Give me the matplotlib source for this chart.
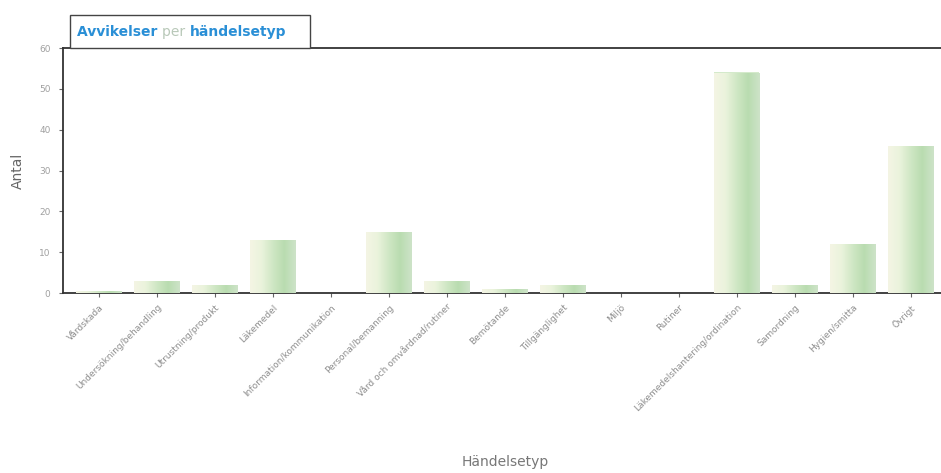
import numpy as np
import matplotlib
matplotlib.use("Agg")
import matplotlib.pyplot as plt
from matplotlib.colors import LinearSegmentedColormap
from matplotlib.patches import Rectangle

# Deviation counts per event type
categories = [
    "Vårdskada",
    "Undersökning/behandling",
    "Utrustning/produkt",
    "Läkemedel",
    "Information/kommunikation",
    "Personal/bemanning",
    "Vård och omvårdnad/rutiner",
    "Bemötande",
    "Tillgänglighet",
    "Miljö",
    "Rutiner",
    "Läkemedelshantering/ordination",
    "Samordning",
    "Hygien/smitta",
    "Övrigt",
]
counts = [0.5, 3, 2, 13, 0, 15, 3, 1, 2, 0, 0, 54, 2, 12, 36]
yticks = [0, 10, 20, 30, 40, 50, 60]

fig = plt.figure(figsize=(9.41, 4.73), dpi=100)
ax = fig.add_axes([63 / 941, 1 - 293 / 473, 1 - 63 / 941, (293 - 48) / 473])

x = np.arange(len(categories))
bar_w = 0.78
bars = ax.bar(x, counts, width=bar_w, color="#d4eacb", edgecolor="none", zorder=2)

# Horizontal gradient fill inside each bar (cream on the left, green on the right)
grad_cmap = LinearSegmentedColormap.from_list(
    "barfill", ["#f4f5e4", "#eaf3dc", "#cfe7c4", "#b9dcb0", "#cde3c8"]
)
grad = np.linspace(0, 1, 64).reshape(1, -1)
for rect, val in zip(bars, counts):
    if val <= 0:
        continue
    x0 = rect.get_x()
    im = ax.imshow(grad, cmap=grad_cmap, aspect="auto",
                   extent=[x0, x0 + rect.get_width(), 0, val],
                   zorder=3, interpolation="bilinear")
    im.set_clip_path(rect)

ax.set_xlim(-0.62, len(categories) - 0.48)
ax.set_ylim(0, 60)
ax.set_yticks(yticks)
ax.set_yticklabels([str(v) for v in yticks], fontsize=6.5, color="#a0a0a0")
ax.set_xticks(x)
ax.set_xticklabels(categories, rotation=45, ha="right", rotation_mode="anchor",
                   fontsize=6.5, color="#8e8e8e")
ax.tick_params(axis="x", length=3, width=0.8, color="#666666", pad=4)
ax.tick_params(axis="y", length=3, width=0.8, color="#666666", pad=6)

for side in ("left", "bottom", "top"):
    ax.spines[side].set_color("#333333")
    ax.spines[side].set_linewidth(1.3)
ax.spines["right"].set_visible(False)

ax.set_ylabel("Antal", fontsize=10, color="#666666", labelpad=10)
ax.set_xlabel("Händelsetyp", fontsize=10, color="#777777")
ax.xaxis.label.set_va("center")
ax.xaxis.set_label_coords((505 - 63) / 878, (293 - 462) / 245)

# Title tab sitting on the top edge of the plot
tab = Rectangle((70 / 941, 1 - 48 / 473), (310 - 70) / 941, (48 - 15) / 473,
                transform=fig.transFigure, facecolor="white",
                edgecolor="#444444", linewidth=1.0, zorder=5)
fig.add_artist(tab)
ty = 1 - 32 / 473
t1 = fig.text(77 / 941, ty, "Avvikelser ", fontsize=10, fontweight="bold",
              color="#2a8fd6", va="center", ha="left", zorder=6)
fig.canvas.draw()
bb = t1.get_window_extent()
t2 = fig.text(bb.x1 / fig.bbox.width, ty, "per ", fontsize=10,
              color="#b8c8b8", va="center", ha="left", zorder=6)
fig.canvas.draw()
bb2 = t2.get_window_extent()
fig.text(bb2.x1 / fig.bbox.width, ty, "händelsetyp", fontsize=10,
         fontweight="bold", color="#2a8fd6", va="center", ha="left", zorder=6)

fig.savefig("out.png", dpi=100, facecolor="white")
